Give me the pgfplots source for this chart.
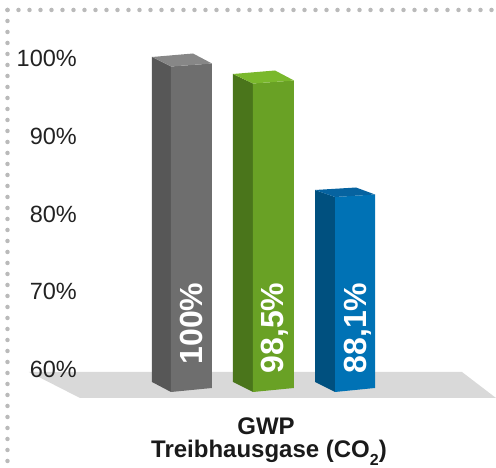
\documentclass[border=0pt]{standalone}
\usepackage{fontspec}
\setmainfont{Liberation Sans}
\usepackage{pgfplots}
\pgfplotsset{compat=1.18}

\definecolor{floorgray}{HTML}{D9D9D9}
\definecolor{dotgray}{HTML}{BABABA}
\definecolor{tickgray}{HTML}{222222}
\definecolor{txtblack}{HTML}{1A1A1A}
\definecolor{grayfront}{HTML}{6E6E6E}
\definecolor{grayside}{HTML}{575757}
\definecolor{graytop}{HTML}{878787}
\definecolor{greenfront}{HTML}{69A125}
\definecolor{greenside}{HTML}{4A751B}
\definecolor{greentop}{HTML}{7AB82C}
\definecolor{bluefront}{HTML}{0072B5}
\definecolor{blueside}{HTML}{00507F}
\definecolor{bluetop}{HTML}{0663A0}

\begin{document}
\begin{tikzpicture}
\begin{axis}[
  scale only axis, width=416pt, height=398pt,
  xmin=80, xmax=496, ymin=56.334, ymax=107.524,
  clip=false, axis on top,
  axis line style={draw=none},
  xtick=\empty, ytick={60,70,80,90,100},
  major tick length=0pt,
  /pgf/number format/assume math mode=true,
  yticklabel={\pgfmathprintnumber{\tick}\%},
  yticklabel style={font=\fontsize{23.5}{24}\selectfont, text=tickgray,
    inner sep=0pt, xshift=-3pt},
]
  % floor
  \addplot[fill=floorgray, draw=none]
    coordinates {(29,59.678)(462,59.678)(496,56.334)(80,56.334)} -- cycle;

  % 100 %
  \addplot[fill=grayside, draw=none]
    coordinates {(152,58.392)(171,57.106)(171,98.971)(152,100.193)} -- cycle;
  \addplot[fill=grayfront, draw=none]
    coordinates {(171,57.106)(212,57.621)(212,99.357)(171,98.971)} -- cycle;
  \addplot[fill=graytop, draw=none]
    coordinates {(152,100.193)(171,98.971)(212,99.357)(193,100.643)} -- cycle;

  % 98,5 %
  \addplot[fill=greenside, draw=none]
    coordinates {(233,58.392)(253,57.106)(253,96.785)(233,98.006)} -- cycle;
  \addplot[fill=greenfront, draw=none]
    coordinates {(253,57.106)(294,57.621)(294,97.170)(253,96.785)} -- cycle;
  \addplot[fill=greentop, draw=none]
    coordinates {(233,98.006)(253,96.785)(294,97.170)(275,98.457)} -- cycle;

  % 88,1 %
  \addplot[fill=blueside, draw=none]
    coordinates {(315,58.392)(335,57.106)(335,82.187)(315,83.087)} -- cycle;
  \addplot[fill=bluefront, draw=none]
    coordinates {(335,57.106)(375,57.621)(375,82.508)(335,82.187)} -- cycle;
  \addplot[fill=bluetop, draw=none]
    coordinates {(315,83.087)(335,82.187)(375,82.508)(356,83.408)} -- cycle;

  % labels in the bars
  \tikzset{barlab/.style={rotate=90, anchor=base east, text=white, inner sep=0pt,
    font=\bfseries\fontsize{32}{32}\selectfont}}
  \node[barlab] at (axis cs:202,71.19) {100\%};
  \node[barlab] at (axis cs:283,71.19) {98,5\%};
  \node[barlab] at (axis cs:366,71.19) {88,1\%};

  % caption under the floor
  \node[anchor=base, text=txtblack, font=\bfseries\fontsize{24}{24}\selectfont]
    at (axis cs:266,51.58) {GWP};
  \node[anchor=base, text=txtblack, font=\bfseries\fontsize{24}{24}\selectfont]
    at (axis cs:269,48.62)
    {Treibhausgase (CO\raisebox{-8pt}{\fontsize{16}{16}\selectfont 2})};

  % dotted frame
  \draw[dotgray, line width=4.5pt, line cap=round, dash pattern=on 0pt off 11pt]
    (axis cs:7.5,106.24) -- (axis cs:7.5,46);
  \draw[dotgray, line width=4.5pt, line cap=round, dash pattern=on 0pt off 11pt]
    (axis cs:7.5,106.24) -- (axis cs:505,106.24);

  \coordinate (BL) at (axis cs:0,47.331);
  \coordinate (TR) at (axis cs:496,107.524);
\end{axis}
\pgfresetboundingbox
\path[use as bounding box] (BL) rectangle (TR);
\end{tikzpicture}
\end{document}
